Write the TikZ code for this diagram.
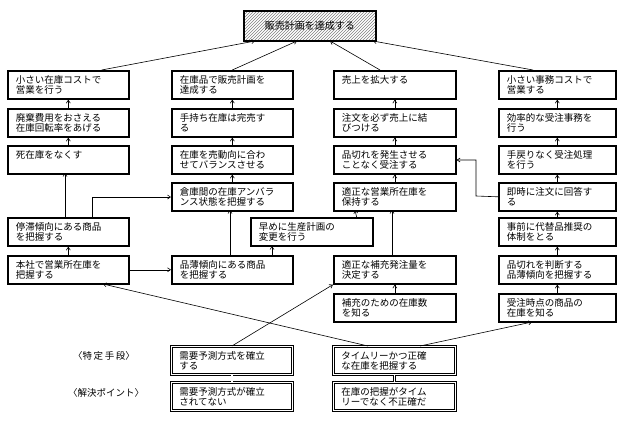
\documentclass[tikz,border=0pt]{standalone}
\usepackage{fontspec}
\setmainfont{Noto Sans CJK JP}
\usetikzlibrary{arrows.meta,patterns}
\begin{document}
\begin{tikzpicture}[x=1pt,y=-1pt,
  box/.style={draw,line width=1.6pt,anchor=north west,align=left,inner xsep=7pt,inner ysep=2pt,minimum height=28pt,font=\fontsize{9.5}{10}\selectfont},
  dbox/.style={draw,double,double distance=1.8pt,line width=0.8pt,anchor=north west,align=left,inner xsep=7pt,inner ysep=2pt,minimum height=28pt,font=\fontsize{9.5}{10}\selectfont},
  ar/.style={-{Straight Barb[length=3pt,width=4pt]},line width=0.6pt},
  ln/.style={line width=0.6pt}]
\useasboundingbox (0,0) rectangle (627,421);
\newcommand\bx[5]{\node[box,minimum width=#4pt,text width={#4pt-16pt}] (#1) at (#2,#3) {#5};}
% top
\node[draw,line width=1.6pt,pattern=north east lines,pattern color=gray,anchor=north west,minimum width=132pt,minimum height=30pt,font=\fontsize{10}{11}\selectfont] (top) at (243,10) {販売計画を達成する};
% column 1
\bx{a1}{7}{70}{121}{小さい在庫コストで\\営業を行う}
\bx{a2}{7}{108}{121}{廃棄費用をおさえる\\在庫回転率をあげる}
\bx{a3}{7}{145}{121}{死在庫をなくす\\\mbox{}}
\bx{a4}{7}{217}{121}{停滞傾向にある商品\\を把握する}
\bx{a5}{7}{255}{121}{本社で営業所在庫を\\把握する}
% column 2
\bx{b1}{171}{70}{121}{在庫品で販売計画を\\達成する}
\bx{b2}{171}{108}{121}{手持ち在庫は完売す\\る}
\bx{b3}{171}{145}{121}{在庫を売動向に合わ\\せてバランスさせる}
\bx{b4}{171}{182}{121}{倉庫間の在庫アンバラ\\ンス状態を把握する}
\bx{b5}{171}{255}{121}{品薄傾向にある商品\\を把握する}
\bx{e1}{250}{217}{122}{早めに生産計画の\\変更を行う}
% column 3
\bx{c1}{333}{70}{122}{売上を拡大する\\\mbox{}}
\bx{c2}{333}{108}{122}{注文を必ず売上に結\\びつける}
\bx{c3}{333}{145}{122}{品切れを発生させる\\ことなく受注する}
\bx{c4}{333}{182}{122}{適正な営業所在庫を\\保持する}
\bx{c5}{333}{255}{122}{適正な補充発注量を\\決定する}
\bx{c6}{333}{293}{122}{補充のための在庫数\\を知る}
% column 4
\bx{d1}{498}{70}{117}{小さい事務コストで\\営業する}
\bx{d2}{498}{108}{117}{効率的な受注事務を\\行う}
\bx{d3}{498}{145}{117}{手戻りなく受注処理\\を行う}
\bx{d4}{498}{182}{117}{即時に注文に回答す\\る}
\bx{d5}{498}{217}{117}{事前に代替品推奨の\\体制をとる}
\bx{d6}{498}{255}{117}{品切れを判断する\\品薄傾向を把握する}
\bx{d7}{498}{293}{117}{受注時点の商品の\\在庫を知る}
% bottom
\node[dbox,minimum width=121pt,text width=105pt] (f1) at (171,346) {需要予測方式を確立\\する};
\node[dbox,minimum width=121pt,text width=105pt] (f2) at (171,382) {需要予測方式が確立\\されてない};
\node[dbox,minimum width=122pt,text width=106pt] (g1) at (333,346) {タイムリーかつ正確\\な在庫を把握する};
\node[dbox,minimum width=122pt,text width=106pt] (g2) at (333,382) {在庫の把握がタイム\\リーでなく不正確だ};
\node[font=\fontsize{9.5}{10}\selectfont] (l1) at (104,356) {〈特\,定\,手\,段〉};
\node[font=\fontsize{9.5}{10}\selectfont] (l2) at (106,393) {〈解決ポイント〉};
% to top
\draw[ar] (a1.north east) ++(-28,0) coordinate (p1) -- (255,41);
\draw[ar] (b1.north) ++(0,0) -- (297,41);
\draw[ar] (c1.north west) ++(47,0) -- (330,41);
\draw[ar] (d1.north west) ++(35,0) -- (373,41);
% vertical chains
\foreach \u/\v in {a2/a1,a3/a2,a5/a4,b2/b1,b3/b2,b4/b3,c2/c1,c3/c2,c4/c3,c6/c5,d2/d1,d3/d2,d4/d3,d5/d4,d6/d5,d7/d6}
  \draw[ar] (\u.north) -- (\v.south);
\draw[ar] (a4.north west) ++(58,0) -- (65,173);
\draw[ar] (a4.north west) ++(85,0) -- (92,197) -- (b4.west |- 0,197);
\draw[ar] (a5.east) -- (b5.west);
\draw[ar] (b5.north west) ++(59,0) -- (230,210);
\draw[ar] (b5.north west) ++(101,0) -- (272,246);
\draw[ar] (e1.north east) ++(-17,0) -- (355,210);
\draw[ar] (c5.north west) ++(59,0) -- (392,210);
\draw[ar] (d4.west) -- (476,196) -- (476,160) -- (c3.east |- 0,160);
% bottom connectors
\draw[ar] (f1.north) -- (c5.south west);
\draw[ar] (g1.north west) ++(35,0) -- (103,284);
\draw[ar] (g1.north west) ++(87,0) -- (532,322);
\draw[ln,double,double distance=1.2pt] (f1.south) -- (f2.north);
\draw[ln,double,double distance=1.2pt] (g1.south) -- (g2.north);
\end{tikzpicture}
\end{document}
